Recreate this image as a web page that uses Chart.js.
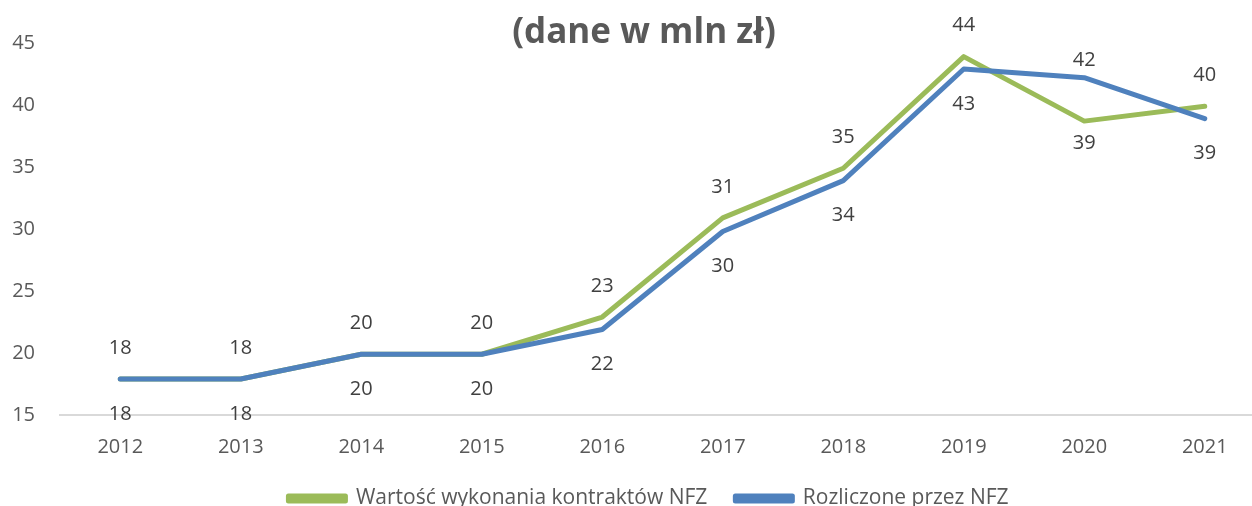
<!DOCTYPE html>
<html>
<head>
<meta charset="utf-8">
<script src="https://cdn.jsdelivr.net/npm/chart.js@4.4.1/dist/chart.umd.min.js"></script>
<style>
html,body{margin:0;padding:0;background:#fff;overflow:hidden;width:1252px;height:506px;}
#wrap{position:absolute;left:0;top:0;width:1266px;height:519px;}
</style>
</head>
<body>
<div id="wrap"><canvas id="c" width="1266" height="519"></canvas></div>
<script>
const categories = ['2012','2013','2014','2015','2016','2017','2018','2019','2020','2021'];
const wartoscValues = [17.9, 17.9, 19.9, 19.9, 22.9, 30.9, 34.9, 43.9, 38.7, 39.9];
const rozliczoneValues = [17.9, 17.9, 19.9, 19.9, 21.9, 29.8, 33.9, 42.9, 42.2, 38.9];
const seriesNames = ['Wartość wykonania kontraktów NFZ', 'Rozliczone przez NFZ'];
const yTicks = [15, 20, 25, 30, 35, 40, 45];
const titleText = '(dane w mln zł)';

const GREEN = '#9BBB59', BLUE = '#4F81BD';
const FONT = '"Open Sans", Lato, sans-serif';

const titlePlugin = {
  id: 'fixedTitle',
  afterDraw(chart) {
    const ctx = chart.ctx;
    ctx.save();
    ctx.font = 'bold 35px ' + FONT;
    ctx.fillStyle = '#595959';
    ctx.textAlign = 'center';
    ctx.textBaseline = 'middle';
    ctx.fillText(titleText, 644, 33);
    ctx.restore();
  }
};

// shift the legend block so it is centred like in the original
const legendShift = {
  id: 'legendShift',
  afterLayout(chart) {
    const lg = chart.legend;
    if (lg) { lg.left -= 14; lg.right -= 14; }
  }
};

const labelPlugin = {
  id: 'valueLabels',
  afterDatasetsDraw(chart) {
    const ctx = chart.ctx;
    ctx.save();
    ctx.font = '20px ' + FONT;
    ctx.fillStyle = '#404040';
    ctx.textAlign = 'center';
    ctx.textBaseline = 'middle';
    const m0 = chart.getDatasetMeta(0), m1 = chart.getDatasetMeta(1);
    const d0 = chart.data.datasets[0].data, d1 = chart.data.datasets[1].data;
    for (let i = 0; i < categories.length; i++) {
      const p0 = m0.data[i], p1 = m1.data[i];
      if (d0[i] >= d1[i]) {
        ctx.fillText(Math.round(d0[i]).toString(), p0.x, p0.y - 31);
        ctx.fillText(Math.round(d1[i]).toString(), p1.x, p1.y + 35);
      } else {
        ctx.fillText(Math.round(d1[i]).toString(), p1.x, p1.y - 17);
        ctx.fillText(Math.round(d0[i]).toString(), p0.x, p0.y + 22);
      }
    }
    ctx.restore();
  }
};

new Chart(document.getElementById('c'), {
  type: 'line',
  data: {
    labels: categories,
    datasets: [
      { label: seriesNames[0], data: wartoscValues, borderColor: GREEN, backgroundColor: GREEN,
        borderWidth: 5, pointRadius: 0, tension: 0, borderCapStyle: 'round', borderJoinStyle: 'round', order: 1 },
      { label: seriesNames[1], data: rozliczoneValues, borderColor: BLUE, backgroundColor: BLUE,
        borderWidth: 5, pointRadius: 0, tension: 0, borderCapStyle: 'round', borderJoinStyle: 'round', order: 0 }
    ]
  },
  options: {
    responsive: false,
    animation: false,
    events: [],
    layout: { padding: { top: 43, left: 0, right: 1, bottom: 0 } },
    plugins: {
      title: { display: false },
      tooltip: { enabled: false },
      legend: {
        display: true,
        position: 'bottom',
        fullSize: false,
        labels: {
          boxWidth: 57, boxHeight: 5, padding: 28,
          color: '#595959',
          font: { family: FONT, size: 21 },
          sort: (a, b) => a.datasetIndex - b.datasetIndex
        }
      }
    },
    scales: {
      x: {
        offset: true,
        afterFit: (s) => { s.height = 45; },
        grid: { display: false, drawTicks: false },
        border: { display: true, color: '#D9D9D9', width: 2 },
        ticks: { color: '#595959', font: { family: FONT, size: 20 }, padding: 20, maxRotation: 0 }
      },
      y: {
        min: 15, max: 45,
        afterFit: (s) => { s.width = 60; },
        afterBuildTicks: (s) => { s.ticks = yTicks.map(v => ({ value: v })); },
        grid: { display: false, drawTicks: false },
        border: { display: false },
        ticks: { color: '#595959', font: { family: FONT, size: 20 }, padding: 25 }
      }
    }
  },
  plugins: [titlePlugin, labelPlugin, legendShift]
});
</script>
</body>
</html>
